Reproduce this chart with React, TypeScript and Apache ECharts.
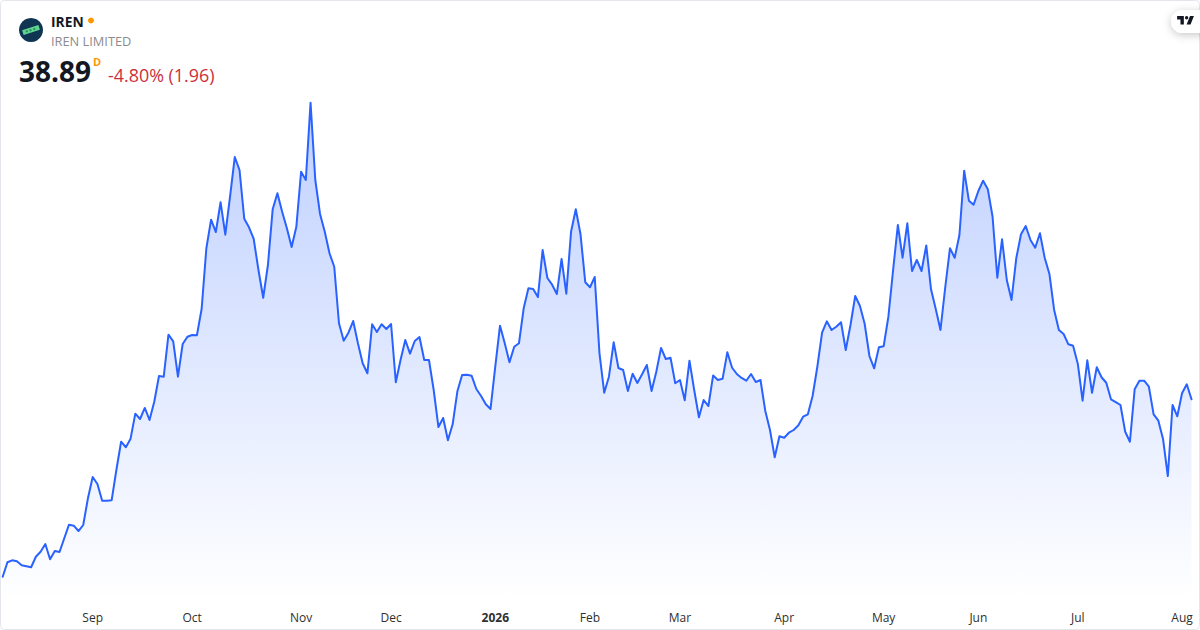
import React, { useEffect, useRef } from "react";
import * as echarts from "echarts";

const prices = [
  16.18, 18.03, 18.28, 18.15, 17.64, 17.51, 17.39, 18.74, 19.38, 20.37, 18.41, 19.47, 19.34, 21.10, 22.84, 22.71, 22.03, 22.80, 26.22, 28.94,
  28.05, 25.91, 25.91, 25.96, 29.84, 33.46, 32.75, 33.85, 37.05, 36.37, 37.78, 36.24, 38.58, 41.87, 41.78, 47.16, 46.31, 41.78, 45.97, 46.90,
  47.12, 47.08, 50.45, 58.22, 61.88, 60.30, 64.11, 59.96, 64.82, 69.90, 68.24, 62.01, 60.91, 59.41, 55.44, 51.89, 56.08, 63.21, 65.26, 62.90,
  60.78, 58.38, 60.98, 68.02, 66.96, 76.85, 66.96, 62.61, 60.34, 57.58, 55.86, 48.62, 46.39, 47.41, 48.91, 46.06, 43.50, 42.22, 48.49, 47.50,
  48.49, 47.89, 48.53, 41.07, 43.92, 46.48, 44.73, 46.35, 46.86, 43.92, 43.92, 40.08, 35.34, 36.50, 33.64, 35.69, 39.91, 42.00, 42.04, 41.91,
  40.21, 39.31, 38.25, 37.65, 43.06, 48.31, 46.06, 43.63, 45.62, 46.06, 50.54, 53.10, 53.01, 51.98, 58.00, 54.42, 53.56, 52.37, 56.85, 52.41,
  60.34, 63.21, 60.01, 53.87, 53.23, 54.54, 44.78, 39.73, 41.78, 46.19, 42.90, 42.64, 39.95, 42.17, 40.98, 42.09, 43.28, 39.95, 42.42, 45.46,
  44.05, 44.21, 40.94, 41.36, 38.76, 43.83, 40.08, 36.59, 38.80, 38.03, 41.94, 41.36, 41.53, 44.91, 42.93, 42.13, 41.62, 41.27, 42.13, 41.10,
  41.36, 37.43, 34.96, 31.47, 34.15, 33.97, 34.61, 34.96, 35.56, 36.66, 36.97, 39.31, 43.06, 47.41, 48.87, 47.76, 48.18, 48.75, 45.20, 48.40,
  52.11, 50.83, 48.53, 44.43, 42.86, 45.55, 45.67, 49.46, 55.44, 61.20, 57.01, 61.42, 55.31, 56.72, 55.31, 58.58, 52.97, 50.45, 47.76, 53.20,
  58.22, 57.01, 59.92, 68.15, 64.31, 63.80, 65.55, 66.87, 65.77, 62.26, 54.45, 59.37, 54.16, 51.60, 56.94, 60.01, 61.07, 59.28, 58.29, 60.14,
  57.01, 54.93, 50.32, 47.76, 47.25, 45.93, 45.75, 43.41, 38.71, 43.88, 39.73, 42.99, 41.71, 41.01, 38.89, 38.54, 38.16, 34.74, 33.46, 40.17,
  41.27, 41.27, 40.50, 36.97, 36.15, 33.77, 29.07, 38.16, 36.71, 39.66, 40.81, 38.89,
];
const tickIndices = [19, 40, 63, 82, 104, 124, 143, 165, 186, 206, 227, 249];
const tickLabels = ["Sep", "Oct", "Nov", "Dec", "2026", "Feb", "Mar", "Apr", "May", "Jun", "Jul", "Aug"];
const categories = prices.map((_, i) => {
  const k = tickIndices.indexOf(i);
  return k >= 0 ? tickLabels[k] : "";
});

const FONT = '"Open Sans", "Noto Sans", sans-serif';
const LOGO_D = "M14 2H2v6h6v9h6V2Zm12 15h-7l6-15h7l-6 15Zm-7-9a3 3 0 1 0 0-6 3 3 0 0 0 0 6Z";

export default function App() {
  const ref = useRef<HTMLDivElement>(null);
  useEffect(() => {
    if (!ref.current) return;
    echarts.graphic.registerShape("tvlogo", echarts.graphic.extendPath(LOGO_D, {}) as any);
    const chart = echarts.init(ref.current, undefined, { renderer: "svg", width: 1200, height: 630 });
    chart.setOption({
      animation: false,
      backgroundColor: "#ffffff",
      grid: { left: 2.7, right: 8.5, top: 30, height: 570 },
      xAxis: {
        type: "category",
        boundaryGap: false,
        data: categories,
        axisLine: { show: false },
        axisTick: { show: false },
        splitLine: { show: false },
        axisLabel: {
          interval: (i: number) => tickIndices.includes(i),
          margin: 11,
          fontFamily: FONT,
          fontSize: 12,
          color: "#2f2f2f",
          formatter: (v: string) => (v === "2026" ? "{b|2026}" : v),
          rich: { b: { fontFamily: FONT, fontSize: 12, fontWeight: 700, color: "#2f2f2f" } },
        },
      },
      yAxis: { type: "value", min: 13.2, max: 86.16, show: false, splitLine: { show: false } },
      series: [
        {
          type: "line",
          data: prices,
          symbol: "none",
          smooth: false,
          lineStyle: { color: "#2962FF", width: 2, join: "round", cap: "round" },
          areaStyle: {
            origin: "start",
            opacity: 1,
            color: new echarts.graphic.LinearGradient(0, 0, 0, 1, [
              { offset: 0, color: "rgba(41,98,255,0.3)" },
              { offset: 1, color: "rgba(41,98,255,0)" },
            ]),
          },
        },
      ],
      graphic: [
        { type: "rect", shape: { x: 0.5, y: 0.5, width: 1199, height: 629, r: 4 }, style: { fill: "none", stroke: "#E4E6EC", lineWidth: 1 }, silent: true, z: 10 },
        { type: "circle", shape: { cx: 31, cy: 30, r: 12 }, style: { fill: "#0F3553" }, z: 10 },
        {
          type: "group",
          x: 31,
          y: 30,
          rotation: 0.3,
          z: 11,
          children: [
            { type: "rect", shape: { x: -8.5, y: -2.5, width: 17, height: 5 }, style: { fill: "#5FD68E" }, z: 11 },
            { type: "rect", shape: { x: -5.5, y: -1, width: 2, height: 2 }, style: { fill: "#2E8B62" }, z: 12 },
            { type: "rect", shape: { x: -1.5, y: -1, width: 2, height: 2 }, style: { fill: "#2E8B62" }, z: 12 },
            { type: "rect", shape: { x: 2.5, y: -1, width: 2, height: 2 }, style: { fill: "#2E8B62" }, z: 12 },
          ],
        },
        { type: "text", x: 51, y: 21, style: { text: "IREN", font: `700 13.8px ${FONT}`, fill: "#131722", verticalAlign: "middle" }, z: 10 },
        { type: "circle", shape: { cx: 91, cy: 20.5, r: 3 }, style: { fill: "#FF9800" }, z: 10 },
        { type: "text", x: 51, y: 40.5, style: { text: "IREN LIMITED", font: `400 12.8px ${FONT}`, fill: "#8C8C8C", verticalAlign: "middle" }, z: 10 },
        { type: "text", x: 19, y: 71, style: { text: "38.89", font: `700 28px ${FONT}`, fill: "#131722", verticalAlign: "middle" }, z: 10 },
        { type: "text", x: 93, y: 61, style: { text: "D", font: `700 11px ${FONT}`, fill: "#FF9800", verticalAlign: "middle" }, z: 10 },
        { type: "text", x: 108, y: 75, style: { text: "-4.80% (1.96)", font: `400 17.9px ${FONT}`, fill: "#CC2F3C", verticalAlign: "middle" }, z: 10 },
        {
          type: "rect",
          shape: { x: 1171, y: 10, width: 45, height: 23, r: 11.5 },
          style: { fill: "#ffffff", shadowBlur: 8, shadowColor: "rgba(0,0,0,0.22)", shadowOffsetY: 2 },
          z: 12,
        },
        { type: "tvlogo", x: 1176, y: 15, scaleX: 0.56, scaleY: 0.56, style: { fill: "#131722" }, z: 13 },
      ],
    });
    return () => chart.dispose();
  }, []);
  return <div ref={ref} style={{ position: "absolute", left: 0, top: 0, width: 1200, height: 630 }} />;
}
